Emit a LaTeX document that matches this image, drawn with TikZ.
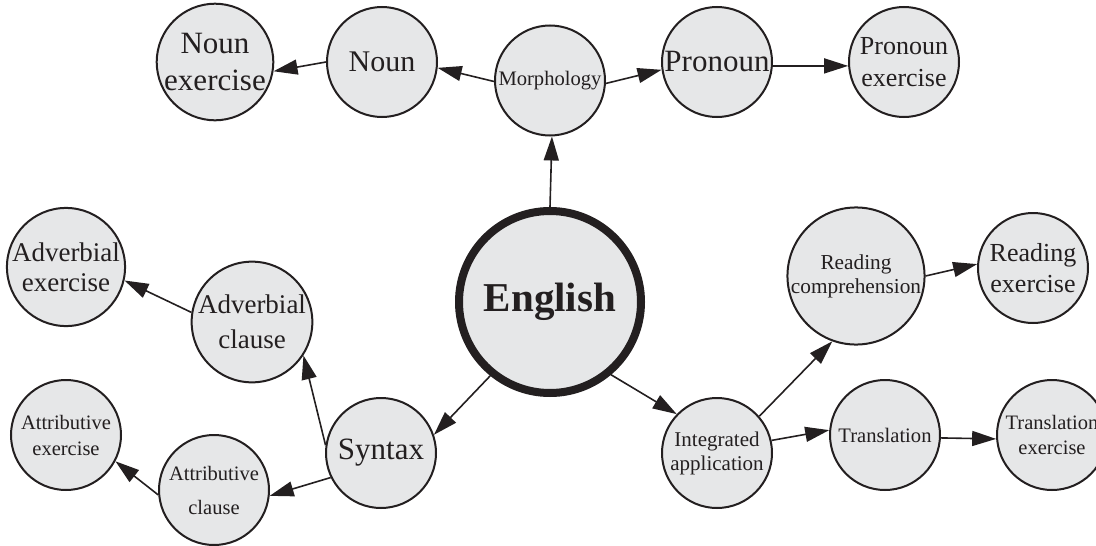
\documentclass[tikz,border=0pt]{standalone}
\usepackage{fontspec}
\setmainfont{Liberation Serif}
\usetikzlibrary{arrows.meta}
\definecolor{ink}{HTML}{231F20}
\definecolor{bubfill}{HTML}{E6E7E8}
\newcommand{\fsz}[2]{\fontsize{#1pt}{#2pt}\selectfont}
\tikzset{
  bub/.style={circle, draw=ink, fill=bubfill, line width=2pt, minimum size=110pt,
              inner sep=0pt, align=center, text=ink},
  conn/.style={draw=ink, line width=1.6pt, -{Triangle[length=24pt,width=15pt]}}
}
\begin{document}
\begin{tikzpicture}[x=1pt,y=-1pt]
\useasboundingbox (0,0) rectangle (1096,546);
% nodes
\node[bub, line width=8pt, minimum size=182pt, font={\fsz{41}{48}\bfseries}] (eng) at (550,302) {English};
\node[bub, font={\fsz{20.6}{25}}] (mor) at (550,80.5) {Morphology};
\node[bub, font={\fsz{30}{36}}] (noun) at (382,62) {Noun};
\node[bub, font={\fsz{31}{37}}] (nex) at (215,62) {Noun\\exercise};
\node[bub, font={\fsz{31}{37}}] (pro) at (717,62) {Pronoun};
\node[bub, font={\fsz{26}{32}}] (pex) at (904,62) {Pronoun\\exercise};
\node[bub, font={\fsz{31}{37}}] (syn) at (381,453) {Syntax};
\node[bub, font={\fsz{27}{35}}] (adv) at (252,322) {Adverbial\\clause};
\node[bub, font={\fsz{27}{30}}] (aex) at (66,267) {Adverbial\\exercise};
\node[bub, font={\fsz{20.5}{34}}] (att) at (214,490) {Attributive\\clause};
\node[bub, font={\fsz{20.5}{26}}] (tex) at (66,435) {Attributive\\exercise};
\node[bub, font={\fsz{21}{24}}] (int) at (717,453) {Integrated\\application};
\node[bub, minimum size=130pt, font={\fsz{21.3}{24}}] (rc) at (856,276) {Reading\\comprehension};
\node[bub, font={\fsz{26}{31}}] (rex) at (1033,268) {Reading\\exercise};
\node[bub, font={\fsz{20.6}{25}}] (tr) at (885,435) {Translation};
\node[bub, font={\fsz{20.5}{25}}] (trx) at (1052,435) {Translation\\exercise};
% connectors
\draw[conn] (eng.90) -- (mor.-88);
\draw[conn] (mor.181) -- (noun.-6);
\draw[conn] (noun.180) -- (nex.-9);
\draw[conn] (mor.-3) -- (pro.188);
\draw[conn] (pro.-4) -- (pex.184);
\draw[conn] (eng.231.5) -- (syn.19.5);
\draw[conn] (syn.172) -- (adv.-33);
\draw[conn] (adv.171) -- (aex.-13);
\draw[conn] (syn.206) -- (att.-6.6);
\draw[conn] (att.185) -- (tex.-28);
\draw[conn] (eng.-50) -- (int.136);
\draw[conn] (int.41) -- (rc.250);
\draw[conn] (rc.0) -- (rex.176);
\draw[conn] (int.13) -- (tr.175);
\draw[conn] (tr.-3) -- (trx.184);
\end{tikzpicture}
\end{document}
